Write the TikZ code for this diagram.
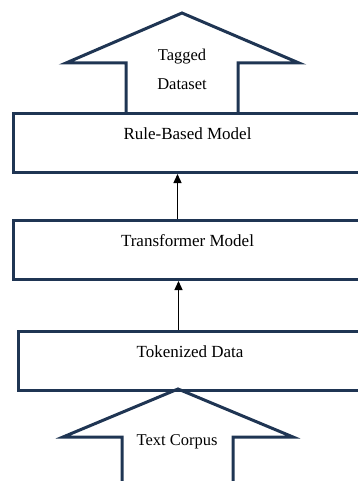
\documentclass[tikz,border=0pt]{standalone}
\usepackage{fontspec}
\setmainfont{Liberation Serif}
\usepackage{tikz}
\usetikzlibrary{arrows.meta,positioning,calc}
\definecolor{marino}{HTML}{1F3553}
\tikzstyle{modelbox} = [rectangle, draw=marino, line width=3pt, minimum width=349pt, text height=26pt, text depth=33pt, inner ysep=0pt, font=\fontsize{17}{20}\selectfont]
\tikzstyle{bigarrow} = [draw=marino, line width=3pt, miter limit=20]
\tikzstyle{labeltxt} = [font=\fontsize{16.5}{19}\selectfont, align=center]
\tikzstyle{arrow} = [line width=1.3pt, -{Triangle[width=8pt,length=9pt]}]

\begin{document}
\begin{tikzpicture}[x=1pt, y=1pt]
	\clip (0,0) rectangle (358,-481);
	% Boxes
	\node (rule) [modelbox, anchor=north west] at (11.5,-112) {Rule-Based Model};
	\node (trans) [modelbox, below=45pt of rule] {Transformer Model};
	\node (token) [modelbox, below=49pt of trans, minimum width=344pt, xshift=2.5pt] {Tokenized Data};
	% Big arrows
	\draw[bigarrow] (126,-113) -- (126,-63) -- (66,-63) -- (182,-13) -- (299,-63) -- (238,-63) -- (238,-113);
	\node (tagged) [labeltxt, anchor=base] at (182,-90) {Tagged\\[10pt]Dataset};
	\draw[bigarrow] (122,-495) -- (122,-437) -- (63,-437) -- (178,-389) -- (293,-437) -- (233,-437) -- (233,-495);
	\node (corpus) [labeltxt] at (177,-442) {Text Corpus};
	% Arrows
	\draw[arrow] ([xshift=-10pt]trans.north) -- ([xshift=-10pt]rule.south);
	\draw[arrow] ([xshift=-9pt]trans.south |- token.north) -- ([xshift=-9pt]trans.south);
\end{tikzpicture}
\end{document}
